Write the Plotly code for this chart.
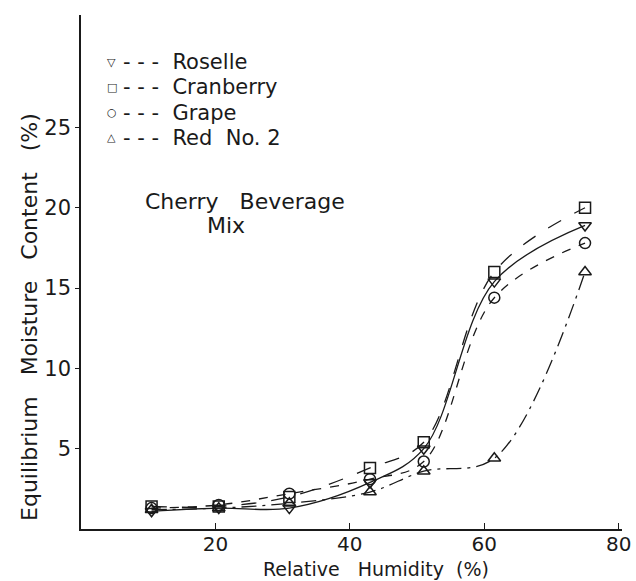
import plotly.graph_objects as go

# Relative humidity of the storage atmospheres (%)
rh = [10.5, 20.5, 31, 43, 51, 61.5, 75]

# Equilibrium moisture content (%) of cherry beverage mix by colourant
roselle = [1.1, 1.3, 1.3, 2.9, 5.0, 15.4, 18.9]
cranberry = [1.4, 1.4, 2.0, 3.8, 5.4, 16.0, 20.0]
grape = [1.3, 1.5, 2.2, 3.1, 4.2, 14.4, 17.8]
red_no2 = [1.2, 1.3, 1.6, 2.3, 3.6, 4.4, 16.0]

series_names = ["Roselle", "Cranberry", "Grape", "Red  No. 2"]
x_ticks = [20, 40, 60, 80]
y_ticks = [5, 10, 15, 20, 25]

FONT = "DejaVu Sans"
INK = "#1a1a1a"

styles = [
    (roselle, "triangle-down-open", "solid"),
    (cranberry, "square-open", "longdash"),
    (grape, "circle-open", "dash"),
    (red_no2, "triangle-up-open", "longdashdot"),
]

fig = go.Figure()
for name, (vals, sym, dash) in zip(series_names, styles):
    fig.add_trace(go.Scatter(
        x=rh, y=vals, name=name, mode="lines+markers",
        line=dict(color=INK, width=1.3, dash=dash, shape="spline", smoothing=1.0),
        marker=dict(symbol=sym, size=11, color=INK, line=dict(width=1.5, color=INK)),
        showlegend=False,
    ))

# Key in the upper-left corner
glyphs = ["▽", "□", "○", "△"]
key_y = [29.07, 27.5, 25.9, 24.35]
for g, label, yv in zip(glyphs, series_names, key_y):
    fig.add_annotation(x=4.6, y=yv, xref="x", yref="y", text=g, showarrow=False,
                       font=dict(family=FONT, size=11, color=INK), xanchor="center")
    fig.add_annotation(x=6.0, y=yv, xref="x", yref="y", text="- - -  " + label,
                       showarrow=False, font=dict(family=FONT, size=21, color=INK),
                       xanchor="left")

fig.add_annotation(x=24.4, y=20.4, xref="x", yref="y", text="Cherry   Beverage",
                   showarrow=False, font=dict(family=FONT, size=22, color=INK))
fig.add_annotation(x=21.6, y=18.9, xref="x", yref="y", text="Mix",
                   showarrow=False, font=dict(family=FONT, size=22, color=INK))

# Axis titles
fig.add_annotation(x=43.9, y=0, xref="x", yref="paper", yshift=-40, yanchor="middle",
                   text="Relative   Humidity  (%)", showarrow=False,
                   font=dict(family=FONT, size=19, color=INK))
fig.add_annotation(x=0, y=13.2, xref="paper", yref="y", xshift=-51, xanchor="center",
                   text="Equilibrium   Moisture   Content   (%)", textangle=-90,
                   showarrow=False, font=dict(family=FONT, size=22, color=INK))

fig.update_layout(
    width=636, height=581,
    margin=dict(l=81, r=14, t=15, b=52, autoexpand=False),
    paper_bgcolor="white", plot_bgcolor="white",
    font=dict(family=FONT, color=INK),
)
fig.update_xaxes(
    range=[0, 80.5], tickvals=x_ticks, ticks="inside", ticklen=6,
    tickcolor=INK, showgrid=False, zeroline=False, automargin=False,
    showline=True, linecolor=INK, linewidth=1.5, ticklabelstandoff=-4,
    tickfont=dict(family=FONT, size=20, color=INK),
)
fig.update_yaxes(
    range=[0, 32], tickvals=y_ticks, ticks="outside", ticklen=4,
    tickcolor=INK, showgrid=False, zeroline=False, automargin=False,
    showline=True, linecolor=INK, linewidth=1.5,
    tickfont=dict(family=FONT, size=21, color=INK),
)

fig.write_html("out.html")
